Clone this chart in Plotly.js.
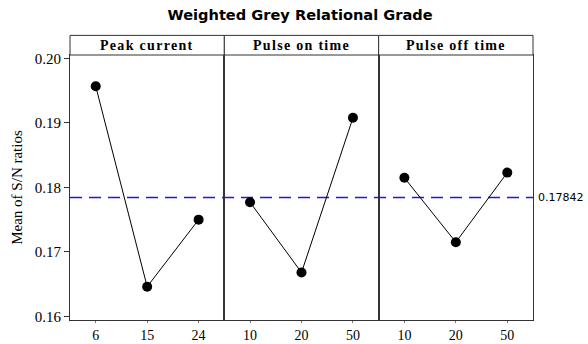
<!DOCTYPE html>
<html>
<head>
<meta charset="utf-8">
<script src="https://cdn.plot.ly/plotly-3.0.1.min.js"></script>
<style>html,body{margin:0;padding:0;background:#fff;}#chart{width:588px;height:344px;}</style>
</head>
<body>
<div id="chart"></div>
<script>
const factors = ["Peak current", "Pulse on time", "Pulse off time"];
const peakCurrentLevels = ["6", "15", "24"];
const pulseOnLevels = ["10", "20", "50"];
const pulseOffLevels = ["10", "20", "50"];
const peakCurrentMeans = [0.1957, 0.1646, 0.1750];
const pulseOnMeans = [0.1777, 0.1668, 0.1908];
const pulseOffMeans = [0.1815, 0.1715, 0.1823];
const grandMean = 0.17842;
const grandMeanLabel = "0.17842";
const yTicks = [0.16, 0.17, 0.18, 0.19, 0.20];
const yTickLabels = ["0.16", "0.17", "0.18", "0.19", "0.20"];

const levels = [peakCurrentLevels, pulseOnLevels, pulseOffLevels];
const means = [peakCurrentMeans, pulseOnMeans, pulseOffMeans];
const serif = "Liberation Serif";
const sans = "DejaVu Sans";

const traces = [];
const domains = [[0, 1/3], [1/3, 2/3], [2/3, 1]];
for (let i = 0; i < 3; i++) {
  const s = i === 0 ? "" : String(i + 1);
  traces.push({
    x: levels[i], y: means[i], type: "scatter", mode: "lines+markers",
    xaxis: "x" + s, yaxis: "y" + s,
    line: {color: "#000", width: 1},
    marker: {color: "#000", size: 10},
    showlegend: false, hoverinfo: "x+y"
  });
}

const yRange = [0.15943, 0.20055];
const layout = {
  width: 588, height: 344,
  margin: {l: 70, r: 55, t: 55, b: 24},
  paper_bgcolor: "#fff", plot_bgcolor: "#fff",
  showlegend: false,
  title: {text: "<b>Weighted Grey Relational Grade</b>", font: {family: sans, size: 14.6, color: "#000"},
          x: 0.497, xanchor: "center", y: 0.958, yanchor: "middle", xref: "paper"},
  shapes: [],
  annotations: []
};
for (let i = 0; i < 3; i++) {
  const s = i === 0 ? "" : String(i + 1);
  layout["xaxis" + s] = {
    domain: domains[i], type: "category", range: [-0.5, 2.5],
    anchor: "y" + s,
    showline: true, mirror: true, linecolor: "#333", linewidth: 1,
    showgrid: false, zeroline: false,
    ticks: "outside", ticklen: 2, tickcolor: "#777",
    tickfont: {family: serif, size: 14, color: "#000"}
  };
  layout["yaxis" + s] = {
    domain: [0, 1], range: yRange, anchor: "x" + s,
    showline: true, mirror: true, linecolor: "#333", linewidth: 1,
    showgrid: false, zeroline: false,
    tickvals: yTicks, ticktext: yTickLabels,
    ticks: i === 0 ? "outside" : "", ticklen: 5, tickcolor: "#333",
    showticklabels: i === 0,
    tickfont: {family: serif, size: 15, color: "#000"}
  };
  if (i > 0) layout["yaxis" + s].matches = "y";
  layout.shapes.push({
    type: "rect", xref: "paper", yref: "paper",
    x0: domains[i][0], x1: domains[i][1], y0: 1, y1: 1.074,
    line: {color: "#333", width: 1}, fillcolor: "#fff", layer: "above"
  });
  layout.annotations.push({
    xref: "paper", yref: "paper", x: (domains[i][0] + domains[i][1]) / 2, y: 1.037,
    xanchor: "center", yanchor: "middle", showarrow: false,
    text: "<b><span style=\"letter-spacing:1.3px\">" + factors[i] + "</span></b>",
    font: {family: serif, size: 14, color: "#000"}
  });
}
layout.yaxis.title = {text: "Mean of S/N ratios", font: {family: serif, size: 15, color: "#000"}, standoff: 8};

layout.shapes.push({
  type: "line", xref: "paper", yref: "y", x0: 0, x1: 1, y0: grandMean, y1: grandMean,
  line: {color: "#1a1ae6", width: 1.5, dash: "12px,7px"}, layer: "below"
});
layout.annotations.push({
  xref: "paper", yref: "y", x: 1, y: grandMean, xanchor: "left", yanchor: "middle",
  xshift: 3, showarrow: false, text: grandMeanLabel,
  font: {family: sans, size: 11, color: "#000"}
});

Plotly.newPlot("chart", traces, layout, {staticPlot: true, displayModeBar: false});
</script>
</body>
</html>
